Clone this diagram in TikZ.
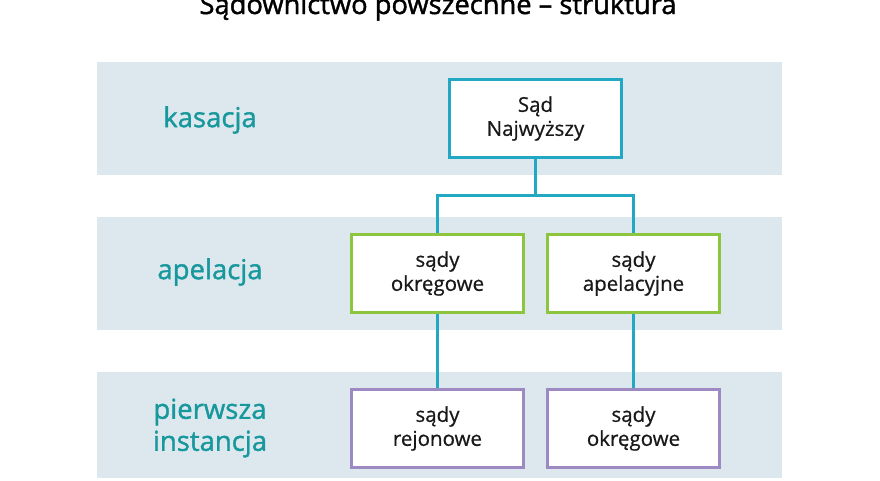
\documentclass[tikz,border=0pt]{standalone}
\usepackage{fontspec}
\setmainfont{Open Sans}
\usepackage{tikz}
\usetikzlibrary{positioning}

\definecolor{bandgray}{HTML}{DDE8EE}
\definecolor{labelteal}{HTML}{17989D}
\definecolor{linecyan}{HTML}{22A8C2}
\definecolor{boxgreen}{HTML}{8CC63F}
\definecolor{boxpurple}{HTML}{9D8AC3}

\begin{document}
\begin{tikzpicture}[x=1pt,y=-1pt,
    band/.style={fill=bandgray,draw=none},
    level/.style={text=labelteal,font=\fontsize{27.5}{32}\selectfont\addfontfeatures{FakeBold=1.3},align=center},
    court/.style={draw,line width=3pt,fill=white,minimum width=172pt,minimum height=78pt,
        align=center,text=black!90,font=\fontsize{20.5}{24}\selectfont\addfontfeatures{FakeBold=0.6}},
    conn/.style={draw=linecyan,line width=3pt}]
\useasboundingbox (0,0) rectangle (880,480);
% background bands
\fill[band] (97,62) rectangle (782,175);
\fill[band] (97,217) rectangle (782,330);
\fill[band] (97,372) rectangle (782,478);
% title
\node [anchor=base] (title) at (438,14) {\fontsize{27.3}{30}\selectfont\addfontfeatures{FakeBold=1.5}Sądownictwo powszechne – struktura};
% levels
\node [level] (kas) at (210,120) {kasacja};
\node [level] (apl) at (210,272) {apelacja};
\node [level] (pier) at (210,428) {pierwsza\\instancja};
% courts
\node [court,draw=linecyan] (sn) at (535.5,118.5) {Sąd\\Najwyższy};
\node [court,draw=boxgreen] (okr) at (437.5,273.5) {sądy\\okręgowe};
\node [court,draw=boxgreen] (apel) at (633.5,273.5) {sądy\\apelacyjne};
\node [court,draw=boxpurple] (rej) at (437.5,428.5) {sądy\\rejonowe};
\node [court,draw=boxpurple] (okr2) at (633.5,428.5) {sądy\\okręgowe};
% connectors
\draw [conn] (sn.south) -- ++(0,36) coordinate (split);
\draw [conn] (split) -| (okr.north);
\draw [conn] (split) -| (apel.north);
\draw [conn] (okr.south) -- (rej.north);
\draw [conn] (apel.south) -- (okr2.north);
\end{tikzpicture}
\end{document}
